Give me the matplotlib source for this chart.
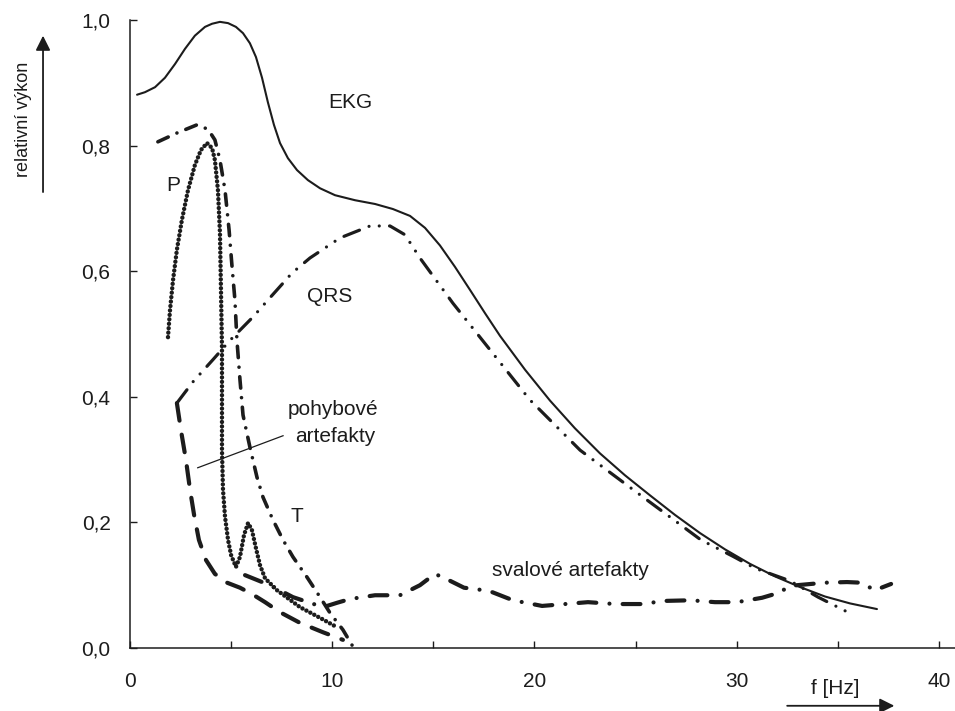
import matplotlib
matplotlib.use("Agg")
import matplotlib.pyplot as plt

plt.rcParams['font.family'] = ['Liberation Sans', 'DejaVu Sans']
plt.rcParams['lines.scale_dashes'] = False

INK = '#1c1c1c'

# výkonová spektra (f [Hz], relativní výkon)
ekg_f = [0.35, 0.74, 1.24, 1.73, 2.23, 2.72, 3.21, 3.71, 4.06, 4.45, 4.85, 5.24, 5.59, 5.93,
         6.23, 6.53, 6.82, 7.12, 7.42, 7.81, 8.26, 8.80, 9.40, 10.14, 11.13, 12.12, 13.00,
         13.85, 14.59, 15.33, 16.07, 16.82, 17.56, 18.30, 19.54, 20.77, 22.00, 23.24, 24.48,
         25.72, 26.95, 28.19, 29.43, 30.66, 31.90, 33.14, 34.37, 35.61, 36.94]
ekg_v = [0.881, 0.885, 0.893, 0.908, 0.930, 0.954, 0.975, 0.989, 0.994, 0.997, 0.995, 0.989,
         0.979, 0.963, 0.941, 0.908, 0.869, 0.833, 0.804, 0.780, 0.761, 0.745, 0.732, 0.721,
         0.713, 0.707, 0.699, 0.688, 0.669, 0.641, 0.607, 0.570, 0.533, 0.497, 0.443, 0.394,
         0.350, 0.310, 0.275, 0.243, 0.212, 0.183, 0.157, 0.134, 0.114, 0.097, 0.082, 0.071,
         0.062]

qrs_f = [2.32, 3.12, 4.10, 4.95, 5.59, 6.08, 6.82, 7.57, 8.01, 8.90, 10.39, 11.87, 12.86, 13.60,
         14.34, 15.97, 17.80, 19.78, 22.26, 25.22, 28.24, 29.82, 30.91, 32.64, 34.03, 35.56]
qrs_v = [0.390, 0.424, 0.459, 0.490, 0.511, 0.527, 0.554, 0.581, 0.597, 0.621, 0.653, 0.672,
         0.672, 0.658, 0.621, 0.549, 0.475, 0.395, 0.315, 0.244, 0.172, 0.146, 0.127, 0.107,
         0.081, 0.056]

p_f = [1.88, 1.98, 2.13, 2.32, 2.57, 2.87, 3.21, 3.51, 3.81, 4.06, 4.20, 4.35, 4.45, 4.50, 4.55,
       4.55, 4.55, 4.60, 4.70, 4.85, 5.00, 5.24, 5.44, 5.64, 5.84, 6.03, 6.23, 6.43, 6.68, 7.27,
       8.41, 9.40, 10.24]
p_v = [0.495, 0.538, 0.586, 0.634, 0.682, 0.729, 0.769, 0.793, 0.804, 0.796, 0.777, 0.729, 0.661,
       0.570, 0.479, 0.395, 0.315, 0.252, 0.209, 0.172, 0.148, 0.129, 0.145, 0.180, 0.199, 0.188,
       0.159, 0.132, 0.111, 0.092, 0.065, 0.048, 0.033]

t_f = [1.38, 2.32, 3.31, 3.86, 4.20, 4.45, 4.70, 4.90, 5.04, 5.19, 5.29, 5.44, 5.59, 5.93, 6.28,
       6.58, 7.07, 7.57, 8.06, 8.75, 9.40, 9.89, 10.53, 11.03]
t_v = [0.806, 0.820, 0.833, 0.826, 0.809, 0.777, 0.729, 0.666, 0.610, 0.554, 0.490, 0.427, 0.371,
       0.320, 0.272, 0.240, 0.204, 0.172, 0.145, 0.113, 0.081, 0.056, 0.029, 0.002]

pohyb_f = [2.32, 2.52, 2.77, 2.97, 3.17, 3.41, 3.76, 4.20, 4.80, 5.44, 6.03, 6.68, 7.42, 8.41,
           9.55, 10.53]
pohyb_v = [0.390, 0.347, 0.299, 0.252, 0.212, 0.172, 0.140, 0.118, 0.104, 0.096, 0.086, 0.073,
           0.057, 0.040, 0.025, 0.013]

sval_f = [5.69, 6.92, 8.06, 8.90, 9.55, 10.24, 10.88, 12.12, 13.35, 14.34, 15.08, 15.58, 16.52,
          17.75, 18.94, 20.38, 21.51, 22.65, 24.00, 25.27, 26.46, 27.74, 28.93, 30.02, 31.26,
          32.10, 32.64, 34.37, 35.46, 36.15, 36.84, 37.64]
sval_v = [0.116, 0.100, 0.081, 0.072, 0.065, 0.072, 0.078, 0.084, 0.084, 0.100, 0.118, 0.111,
          0.096, 0.091, 0.076, 0.067, 0.070, 0.073, 0.070, 0.070, 0.075, 0.076, 0.073, 0.073,
          0.080, 0.088, 0.099, 0.104, 0.105, 0.104, 0.092, 0.102]

x_ticks = [0, 5, 10, 15, 20, 25, 30, 35, 40]
x_labels = ['0', '', '10', '', '20', '', '30', '', '40']
y_ticks = [0.0, 0.2, 0.4, 0.6, 0.8, 1.0]
y_labels = ['0,0', '0,2', '0,4', '0,6', '0,8', '1,0']

fig = plt.figure(figsize=(9.55, 7.11), dpi=100)
ax = fig.add_axes([0.1361, 0.0886, 0.8639, 0.8833])

ax.plot(ekg_f, ekg_v, color=INK, lw=1.5, solid_capstyle='round', solid_joinstyle='round')
ax.plot(qrs_f, qrs_v, color=INK, lw=2.3, dash_capstyle='round',
        linestyle=(0, (12, 7.4, 0.01, 7.4, 0.01, 7.4)))
ax.plot(p_f, p_v, color=INK, lw=3.2, dash_capstyle='round',
        linestyle=(0, (0.01, 3.2)))
ax.plot(t_f, t_v, color=INK, lw=2.6, dash_capstyle='round',
        linestyle=(0, (8.2, 6.9, 0.01, 6.9)))
ax.plot(pohyb_f, pohyb_v, color=INK, lw=3.0, dash_capstyle='round',
        linestyle=(0, (12.8, 10.2)))
ax.plot(sval_f, sval_v, color=INK, lw=3.0, dash_capstyle='round',
        linestyle=(0, (12.8, 9.5, 0.01, 9.5)))

# popisky křivek
fs = 15
ax.text(10.88, 0.868, 'EKG', fontsize=fs, color=INK, ha='center', va='center')
ax.text(2.13, 0.737, 'P', fontsize=fs, color=INK, ha='center', va='center')
ax.text(9.89, 0.559, 'QRS', fontsize=fs, color=INK, ha='center', va='center')
ax.text(7.81, 0.379, 'pohybové', fontsize=fs, color=INK, ha='left', va='center')
ax.text(8.16, 0.336, 'artefakty', fontsize=fs, color=INK, ha='left', va='center')
ax.plot([3.35, 7.57], [0.287, 0.338], color=INK, lw=0.9)
ax.text(8.26, 0.209, 'T', fontsize=fs, color=INK, ha='center', va='center')
ax.text(21.76, 0.124, 'svalové artefakty', fontsize=fs, color=INK, ha='center', va='center')

# osy
ax.set_xlim(0, 40.8)
ax.set_ylim(0, 1.0)
for side in ('top', 'right'):
    ax.spines[side].set_visible(False)
for side in ('left', 'bottom'):
    ax.spines[side].set_linewidth(1.1)
    ax.spines[side].set_color(INK)
ax.set_xticks(x_ticks)
ax.set_xticklabels(x_labels)
ax.set_yticks(y_ticks)
ax.set_yticklabels(y_labels)
ax.tick_params(axis='x', direction='in', length=5, width=1.0, pad=17, labelsize=fs,
               colors=INK)
ax.tick_params(axis='y', direction='in', length=5, width=1.0, pad=14, labelsize=fs,
               colors=INK)

# šipky u popisů os
ax.annotate('', xy=(37.8, -0.092), xytext=(32.5, -0.092), xycoords='data',
            annotation_clip=False,
            arrowprops=dict(arrowstyle='-|>', color=INK, lw=1.3, mutation_scale=22,
                            shrinkA=0, shrinkB=0))
ax.text(34.87, -0.064, 'f [Hz]', fontsize=fs, color=INK, ha='center', va='center',
        clip_on=False)
ax.annotate('', xy=(-4.30, 0.975), xytext=(-4.30, 0.726), xycoords='data',
            annotation_clip=False,
            arrowprops=dict(arrowstyle='-|>', color=INK, lw=1.3, mutation_scale=22,
                            shrinkA=0, shrinkB=0))
ax.text(-5.29, 0.841, 'relativní výkon', fontsize=13, color=INK, rotation=90,
        ha='center', va='center', clip_on=False,
        family=['Liberation Sans Narrow', 'Liberation Sans', 'DejaVu Sans'])

fig.savefig('out.png', dpi=100)
